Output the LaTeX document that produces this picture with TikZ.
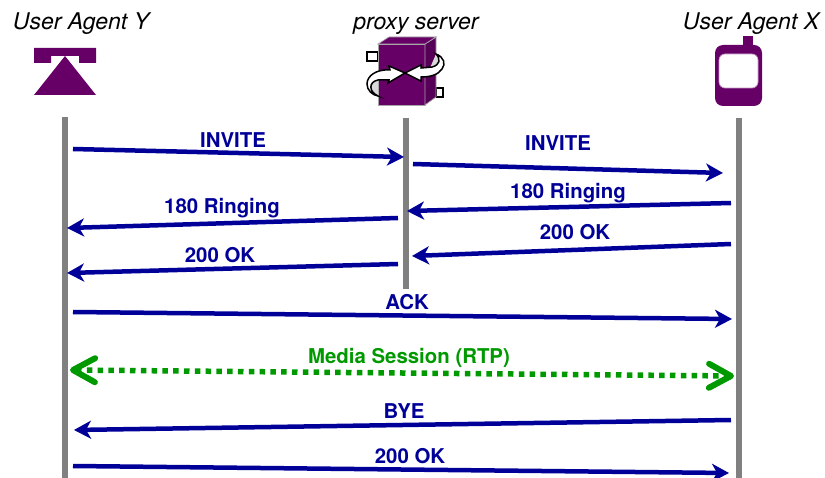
\documentclass[tikz,border=0pt]{standalone}
\usepackage{fontspec}
\setmainfont{TeX Gyre Heros}
\usetikzlibrary{arrows.meta}
\definecolor{icon}{HTML}{660066}
\definecolor{msgblue}{HTML}{000099}
\definecolor{rtpgreen}{HTML}{009900}
\tikzset{
	title/.style={anchor=base, inner sep=0pt, font=\fontsize{23}{23}\selectfont\itshape},
	msglabel/.style={anchor=base, inner sep=0pt, text=msgblue, font=\fontsize{20.4}{20.4}\selectfont\bfseries},
	msg/.style={draw=msgblue, line width=4.5pt, -{Stealth[length=17pt,width=18pt,inset=5pt]}},
	msgback/.style={draw=msgblue, line width=4.5pt, {Stealth[length=17pt,width=18pt,inset=5pt]}-},
	lifeline/.style={draw=gray, line width=6pt}
}
\begin{document}
\begin{tikzpicture}[x=1pt,y=-1pt]
	\useasboundingbox (0,0) rectangle (825,478);
	% titles
	\node[title] (agenty) at (81,30) {User Agent Y};
	\node[title] (proxy) at (416,30) {proxy server};
	\node[title] (agentx) at (751,30) {User Agent X};
	% telephone
	\fill[icon] (34,48) -- (96,48) -- (96,63) -- (79,63) -- (79,56) -- (51,56) -- (51,63) -- (34,63) -- cycle;
	\fill[icon] (65,56) -- (96,95) -- (34,95) -- cycle;
	% server
	\draw[line width=1.5pt, fill=white] (367,52) rectangle (378,61);
	\draw[line width=1.5pt, fill=white] (436,88) rectangle (443,97);
	\fill[icon, draw=gray!70, line width=0.7pt] (378,44) -- (425,44) -- (425,105) -- (378,105) -- cycle;
	\fill[icon!85!black, draw=gray!70, line width=0.7pt] (425,44) -- (436,37) -- (436,97) -- (425,105) -- cycle;
	\fill[icon, draw=gray!70, line width=0.7pt] (378,44) -- (389,37) -- (436,37) -- (425,44) -- cycle;
	\fill[gray!30] (378,96) .. controls (370,94) and (367,88) .. (370,83) -- (378,79) -- cycle;
	\fill[gray!30] (436,54) .. controls (443,57) and (444,63) .. (440,66) -- (430,68) -- cycle;
	\draw[line width=1.5pt, fill=white] (405,73) -- (389,66) -- (390,70)
		.. controls (376,69) and (367,76) .. (367,84)
		.. controls (367,90) and (372,95) .. (378,96)
		.. controls (369,92) and (368,82) .. (378,80)
		-- (389,80) -- (388,83) -- cycle;
	\draw[line width=1.5pt, fill=white] (405,73) -- (421,65) -- (421,68)
		-- (432,67) .. controls (440,65) and (441,59) .. (436,54)
		.. controls (444,57) and (446,64) .. (442,69)
		.. controls (438,75) and (430,77) .. (421,77) -- (421,81) -- cycle;
	% mobile phone
	\fill[icon] (743,36) rectangle (753,46);
	\fill[icon, rounded corners=8pt] (715,45) rectangle (762,106);
	\draw[fill=white, draw=icon!40, line width=0.7pt, rounded corners=6pt] (719,54) rectangle (758,88);
	% life lines
	\coordinate (ytop) at (65,117);
	\coordinate (ybot) at (65,478);
	\coordinate (ptop) at (406,118);
	\coordinate (pbot) at (406,289);
	\coordinate (xtop) at (739,118);
	\coordinate (xbot) at (739,478);
	\draw[lifeline] (ytop) -- (ybot);
	\draw[lifeline] (ptop) -- (pbot);
	\draw[lifeline] (xtop) -- (xbot);
	% ends of the messages
	\coordinate (inv1a) at (73,149);
	\coordinate (inv1b) at (404,157);
	\coordinate (inv2a) at (413,164);
	\coordinate (inv2b) at (723,173);
	\coordinate (ring2a) at (407,211);
	\coordinate (ring2b) at (731,203);
	\coordinate (ring1a) at (67,228);
	\coordinate (ring1b) at (398,218);
	\coordinate (ok2a) at (412,256);
	\coordinate (ok2b) at (731,244);
	\coordinate (ok1a) at (67,273);
	\coordinate (ok1b) at (398,264);
	\coordinate (acka) at (73,312);
	\coordinate (ackb) at (732,319);
	\coordinate (rtpa) at (70,370);
	\coordinate (rtpb) at (734,376);
	\coordinate (byea) at (74,430);
	\coordinate (byeb) at (731,420);
	\coordinate (ok3a) at (73,466);
	\coordinate (ok3b) at (729,473);
	% messages
	\draw[msg] (inv1a) -- (inv1b);
	\draw[msg] (inv2a) -- (inv2b);
	\draw[msgback] (ring2a) -- (ring2b);
	\draw[msgback] (ring1a) -- (ring1b);
	\draw[msgback] (ok2a) -- (ok2b);
	\draw[msgback] (ok1a) -- (ok1b);
	\draw[msg] (acka) -- (ackb);
	\draw[rtpgreen, line width=5.5pt, dash pattern=on 5.5pt off 5.3pt,
		{Straight Barb[length=22pt,width=24pt,line width=6pt,round,sep=0pt]}-{Straight Barb[length=22pt,width=24pt,line width=6pt,round,sep=0pt]}]
		(rtpa) -- (rtpb);
	\draw[msgback] (byea) -- (byeb);
	\draw[msg] (ok3a) -- (ok3b);
	% labels
	\node[msglabel] (inv1) at (233,148) {INVITE};
	\node[msglabel] (inv2) at (558,151) {INVITE};
	\node[msglabel] (ring2) at (568,199) {180 Ringing};
	\node[msglabel] (ring1) at (222,214) {180 Ringing};
	\node[msglabel] (ok2) at (575,240) {200 OK};
	\node[msglabel] (ok1) at (220,263) {200 OK};
	\node[msglabel] (ack) at (407,310) {ACK};
	\node[msglabel, text=rtpgreen] (rtp) at (409,364) {Media Session (RTP)};
	\node[msglabel] (bye) at (404,418) {BYE};
	\node[msglabel] (ok3) at (410,463) {200 OK};
\end{tikzpicture}
\end{document}
